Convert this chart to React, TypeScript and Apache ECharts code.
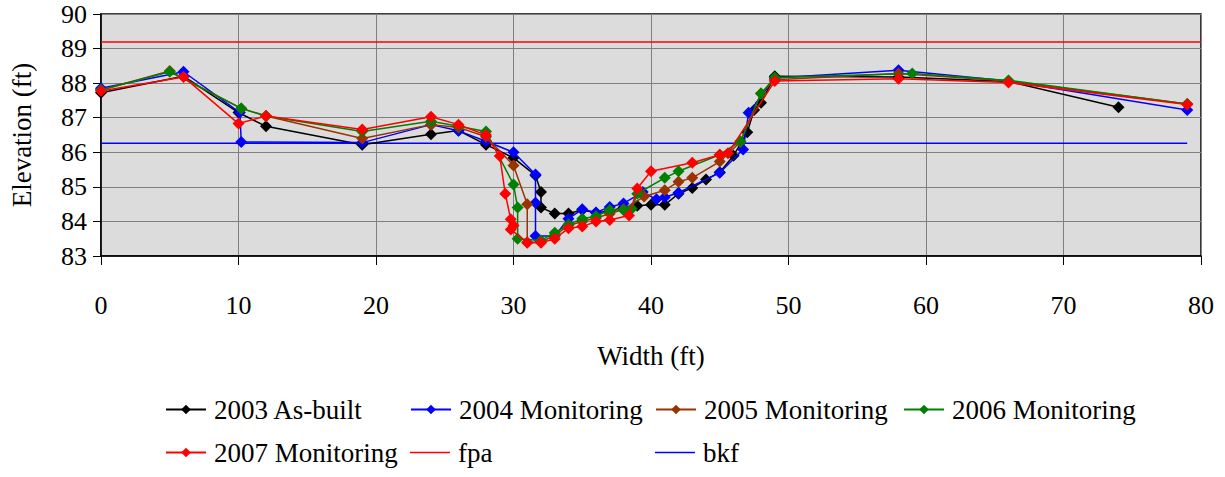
import React, { useEffect, useRef } from "react";
import * as echarts from "echarts";

// ---- Data (width ft, elevation ft) ----
const seriesNames = [
  "2003 As-built",
  "2004 Monitoring",
  "2005 Monitoring",
  "2006 Monitoring",
  "2007 Monitoring",
  "fpa",
  "bkf",
];

const asBuilt2003: [number, number][] = [
  [0, 87.72], [6, 88.2], [10, 87.15], [12, 86.75], [19, 86.22], [24, 86.52], [26, 86.63],
  [28, 86.22], [30, 85.84], [31.6, 85.33], [32, 84.85], [32, 84.4], [33, 84.23], [34, 84.23],
  [35, 84.33], [36, 84.25], [37, 84.3], [38, 84.4], [39, 84.45], [40, 84.48], [41, 84.48],
  [42, 84.8], [43, 84.97], [44, 85.21], [45, 85.42], [46, 85.9], [47, 86.58], [47.5, 87.22],
  [48, 87.43], [49, 88.2], [58, 88.18], [66, 88.05], [74, 87.3],
];

const monitoring2004: [number, number][] = [
  [0, 87.85], [6, 88.33], [10.1, 87.15], [10.2, 86.3], [19, 86.28], [24, 86.8], [26, 86.62],
  [28, 86.32], [30, 86.0], [31.6, 85.36], [31.6, 84.54], [31.6, 83.58], [33, 83.58], [34, 84.08],
  [35, 84.35], [36, 84.26], [37, 84.42], [38, 84.52], [39.4, 84.85], [40.4, 84.64], [41, 84.7],
  [42, 84.83], [45, 85.41], [46.7, 86.08], [47.1, 87.14], [49, 88.15], [58, 88.37], [66, 88.06],
  [79, 87.22],
];

const monitoring2005: [number, number][] = [
  [0, 87.8], [5, 88.35], [10.2, 87.27], [12, 87.05], [19, 86.4], [24, 86.8], [26, 86.72],
  [28, 86.45], [30, 85.62], [31, 84.5], [31, 83.4], [32, 83.4], [33, 83.6], [34, 83.88],
  [35, 84.0], [36, 84.1], [37, 84.22], [38, 84.35], [39.5, 84.72], [41, 84.9], [42, 85.15],
  [43, 85.26], [45, 85.73], [46.5, 86.3], [48, 87.7], [49, 88.1], [58, 88.28], [66, 88.06],
  [79, 87.4],
];

const monitoring2006: [number, number][] = [
  [0, 87.8], [5, 88.33], [10.2, 87.27], [12, 87.05], [19, 86.6], [24, 86.9], [26, 86.75],
  [28, 86.6], [30, 85.07], [30.3, 84.4], [30.3, 83.5], [32, 83.45], [33, 83.67], [34, 83.91],
  [35, 84.08], [36, 84.15], [37, 84.33], [38, 84.33], [38.6, 84.37], [39, 84.8], [41, 85.26],
  [42, 85.45], [45, 85.93], [46.5, 86.32], [48, 87.7], [49, 88.16], [59, 88.28], [66, 88.08],
  [79, 87.4],
];

const monitoring2007: [number, number][] = [
  [0, 87.77], [6, 88.18], [10, 86.83], [12, 87.05], [19, 86.66], [24, 87.03], [26, 86.8],
  [28, 86.5], [29, 85.89], [29.4, 84.8], [29.8, 84.06], [30, 83.88], [29.8, 83.77], [31, 83.38],
  [32, 83.38], [33, 83.5], [34, 83.8], [35, 83.85], [36, 84.0], [37, 84.04], [38.4, 84.17],
  [39, 84.95], [40, 85.45], [43, 85.7], [45, 85.93], [45.6, 85.97], [49, 88.06], [58, 88.13],
  [66, 88.02], [79, 87.38],
];

const fpaLine: [number, number][] = [[0, 89.19], [80, 89.19]];
const bkfLine: [number, number][] = [[0, 86.26], [79, 86.26]];

const xMin = 0, xMax = 80, xStep = 10;
const yMin = 83, yMax = 90, yStep = 1;

const seriesColors = ["#000000", "#0000FF", "#993300", "#008000", "#FF0000", "#FF0000", "#0000FF"];

const FONT = "'Liberation Serif', 'Times New Roman', serif";

export default function App() {
  const ref = useRef<HTMLDivElement>(null);

  useEffect(() => {
    if (!ref.current) return;
    const chart = echarts.init(ref.current, undefined, { renderer: "svg" });

    const markerData = [asBuilt2003, monitoring2004, monitoring2005, monitoring2006, monitoring2007];
    const lineData = [fpaLine, bkfLine];

    const legendPos = [
      { left: 165, top: 396 },
      { left: 410, top: 396 },
      { left: 655, top: 396 },
      { left: 903, top: 396 },
      { left: 165, top: 439 },
      { left: 410, top: 439 },
      { left: 655, top: 439 },
    ];

    const series: any[] = [];
    lineData.forEach((d, i) => {
      series.push({
        name: seriesNames[5 + i],
        type: "line",
        data: d,
        symbol: "none",
        showSymbol: false,
        lineStyle: { color: seriesColors[5 + i], width: 1.5 },
        itemStyle: { color: seriesColors[5 + i] },
        z: 2,
      });
    });
    markerData.forEach((d, i) => {
      series.push({
        name: seriesNames[i],
        type: "line",
        data: d,
        symbol: "diamond",
        symbolSize: 12,
        lineStyle: { color: seriesColors[i], width: 1.5 },
        itemStyle: { color: seriesColors[i] },
        z: 3 + i,
      });
    });

    chart.setOption({
      animation: false,
      textStyle: { fontFamily: FONT },
      grid: {
        left: 101,
        top: 14,
        width: 1100,
        height: 242,
        show: true,
        backgroundColor: "#dcdcdc",
        borderColor: "#000000",
        borderWidth: 1.5,
      },
      legend: seriesNames.map((n, i) => ({
        data: i >= 5 ? [{ name: n, icon: "path://M0,0H40V1.6H0Z" }] : [n],
        left: legendPos[i].left,
        top: legendPos[i].top,
        padding: 0,
        itemWidth: 40,
        itemHeight: 12,
        itemGap: 0,
        selectedMode: false,
        textStyle: { fontFamily: FONT, fontSize: 27, color: "#000", padding: [0, 0, 0, 3] },
      })),
      xAxis: {
        type: "value",
        min: xMin,
        max: xMax,
        interval: xStep,
        name: "Width (ft)",
        nameLocation: "middle",
        nameGap: 86,
        nameTextStyle: { fontFamily: FONT, fontSize: 27, color: "#000" },
        axisLine: { show: true, onZero: false, lineStyle: { color: "#000", width: 1.5 } },
        axisTick: { show: true, length: 9, lineStyle: { color: "#000" } },
        axisLabel: { fontFamily: FONT, fontSize: 26, color: "#000", margin: 36 },
        splitLine: { show: true, lineStyle: { color: "#808080", width: 1 } },
      },
      yAxis: {
        type: "value",
        min: yMin,
        max: yMax,
        interval: yStep,
        name: "Elevation (ft)",
        nameLocation: "middle",
        nameRotate: 90,
        nameGap: 66,
        nameTextStyle: { fontFamily: FONT, fontSize: 27, color: "#000" },
        axisLine: { show: true, onZero: false, lineStyle: { color: "#000", width: 1.5 } },
        axisTick: { show: true, length: 8, lineStyle: { color: "#000" } },
        axisLabel: { fontFamily: FONT, fontSize: 26, color: "#000", margin: 14 },
        splitLine: { show: true, lineStyle: { color: "#808080", width: 1 } },
      },
      series,
    });

    return () => chart.dispose();
  }, []);

  return (
    <div
      ref={ref}
      style={{ position: "fixed", left: 0, top: 0, width: 1225, height: 477, background: "#fff" }}
    />
  );
}
